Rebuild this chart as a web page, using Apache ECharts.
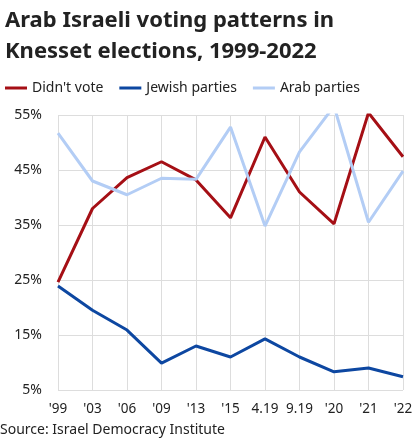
<!DOCTYPE html>
<html><head><meta charset="utf-8">
<script src="https://cdn.jsdelivr.net/npm/echarts@6/dist/echarts.min.js"></script>
<style>html,body{margin:0;padding:0;background:#fff}#c{width:420px;height:441px}</style>
</head><body><div id="c"></div>
<script>
const years = ["'99", "'03", "'06", "'09", "'13", "'15", "4.19", "9.19", "'20", "'21", "'22"];
const didntVote = [24.6, 38, 43.6, 46.5, 43.2, 36.3, 51, 41, 35.2, 55.4, 47.4];
const jewishParties = [23.9, 19.5, 15.9, 9.9, 13, 11, 14.3, 11, 8.3, 9, 7.4];
const arabParties = [51.7, 43, 40.5, 43.5, 43.3, 52.8, 34.8, 48.3, 56.6, 35.5, 44.8];

const chart = echarts.init(document.getElementById('c'));
const font = 'Noto Sans';
function line(name, data, color) {
  return { name: name, type: 'line', data: data, symbol: 'none', clip: false,
    lineStyle: { color: color, width: 3 }, itemStyle: { color: color } };
}
chart.setOption({
  backgroundColor: '#fff',
  title: {
    text: 'Arab Israeli voting patterns in\nKnesset elections, 1999-2022',
    left: 0, top: 0,
    textStyle: { fontFamily: font, fontSize: 22, fontWeight: 'bold', color: '#222', lineHeight: 31 }
  },
  legend: {
    left: 0, top: 76, itemWidth: 22, itemHeight: 3, itemGap: 16,
    icon: 'rect',
    textStyle: { fontFamily: font, fontSize: 14, color: '#222' }
  },
  grid: { left: 58, right: 17, top: 115, bottom: 51 },
  xAxis: {
    type: 'category', data: years, boundaryGap: false,
    axisLine: { show: false }, axisTick: { show: false },
    splitLine: { show: true, interval: 0, lineStyle: { color: '#ddd' } },
    axisLabel: { interval: 0, fontFamily: font, fontSize: 13.5, color: '#222', margin: 12 }
  },
  yAxis: {
    type: 'value', min: 5, max: 55, interval: 10,
    axisLabel: { fontFamily: font, fontSize: 14, color: '#222', formatter: '{value}%', margin: 16 },
    splitLine: { lineStyle: { color: '#ddd' } },
    axisLine: { show: false }
  },
  series: [
    line("Didn't vote", didntVote, '#a50f15'),
    line('Jewish parties', jewishParties, '#0d47a1'),
    line('Arab parties', arabParties, '#b3cdf5')
  ],
  graphic: [{
    type: 'text', left: 0, bottom: 4,
    style: { text: 'Source: Israel Democracy Institute', font: '14px Noto Sans', fill: '#222' }
  }]
});
</script></body></html>
